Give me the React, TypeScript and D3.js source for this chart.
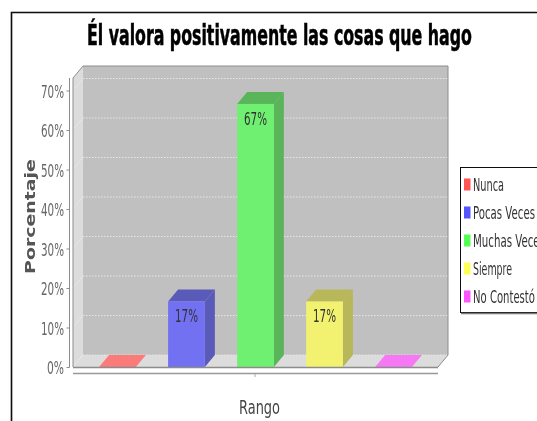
import React from "react";
import * as d3 from "d3";

const categories = ["Nunca", "Pocas Veces", "Muchas Veces", "Siempre", "No Contestó"];
const values = [0, 16.6, 66.6, 16.6, 0];
const labels = ["", "17%", "67%", "17%", ""];
const faceColors = ["#fb7a7a", "#7171f2", "#70f070", "#f2f270", "#f678f4"];
const sideColors = ["#b85c5c", "#5a5ab8", "#5ab45a", "#b8b85a", "#b85ab8"];
const swatchColors = ["#ff5555", "#5555ff", "#55ff55", "#ffff55", "#ff55ff"];
const yTicks = [0, 10, 20, 30, 40, 50, 60, 70];
const titleText = "Él valora positivamente las cosas que hago";

const dx = 10;
const dy = -12;
const font = "'DejaVu Sans', sans-serif";

const ctx = document.createElement("canvas").getContext("2d")!;
function natural(s: string, size: number, weight: number) {
  ctx.font = `${weight} ${size}px 'DejaVu Sans'`;
  return ctx.measureText(s).width;
}

function Squeezed(p: { x: number; y: number; w: number; size: number; fill: string; weight?: number; anchor?: string; stroke?: number; rotate?: number; children: string }) {
  const weight = p.weight ?? 400;
  const sx = p.w / natural(p.children, p.size, weight);
  return (
    <text transform={`translate(${p.x},${p.y}) rotate(${p.rotate ?? 0}) scale(${sx},1)`} fontSize={p.size} fontFamily={font}
      fill={p.fill} fontWeight={weight} textAnchor={p.anchor ?? "start"}
      stroke={p.stroke ? p.fill : undefined} strokeWidth={p.stroke}>
      {p.children}
    </text>
  );
}

export default function App() {
  const y = d3.scaleLinear().domain([0, 70]).range([367, 90.5]);
  const x = d3.scaleBand<string>().domain(categories).range([74, 437]).paddingInner(0.467).paddingOuter(0.363);
  const top = 78, bottom = 367, left = 73, right = 438;
  return (
    <svg width={537} height={421} style={{ position: "absolute", left: 0, top: 0, background: "#fff" }}>
      <defs>
        <filter id="soft" x="0" y="0" width="537" height="421" filterUnits="userSpaceOnUse">
          <feGaussianBlur stdDeviation="0.4" />
        </filter>
      </defs>
      <g filter="url(#soft)">
        <path d="M11.5 421V12.5H537" fill="none" stroke="#111" strokeWidth={1.6} />
        <Squeezed x={87} y={45} w={385} size={29} fill="#000" weight={700} stroke={0.6}>{titleText}</Squeezed>

        {/* walls */}
        <path d={`M${left} ${top}L${left + dx} ${top + dy}V${bottom + dy}L${left} ${bottom}Z`} fill="#dcdcdc" />
        <rect x={left + dx} y={top + dy} width={right - left} height={bottom - top} fill="#c0c0c0" />
        <path d={`M${left} ${bottom}L${left + dx} ${bottom + dy}H${right + dx}L${right} ${bottom}Z`} fill="#dcdcdc" />
        {yTicks.map((t) => (
          <g key={t} strokeWidth={1} strokeDasharray="1.5 1.5">
            <line x1={left} x2={left + dx} y1={y(t)} y2={y(t) + dy} stroke="#eeeeee" />
            <line x1={left + dx} x2={right + dx} y1={y(t) + dy} y2={y(t) + dy} stroke="#e6e6e6" />
          </g>
        ))}
        <path d={`M${left} ${bottom}V${top}L${left + dx} ${top + dy}H${right + dx}V${bottom + dy}L${right} ${bottom}`}
          fill="none" stroke="#8c8c8c" strokeWidth={1} />

        {/* bars */}
        {categories.map((c, i) => {
          const x0 = x(c)!, w = x.bandwidth(), yv = y(values[i]);
          if (values[i] === 0) {
            return (
              <path key={c} fill={faceColors[i]}
                d={`M${x0} ${bottom}L${x0 + dx} ${bottom + dy}H${x0 + w + dx}L${x0 + w} ${bottom}Z`} />
            );
          }
          return (
            <g key={c}>
              <path fill={sideColors[i]} d={`M${x0} ${yv}L${x0 + dx} ${yv + dy}H${x0 + w + dx}L${x0 + w} ${yv}Z`} />
              <path fill={sideColors[i]} d={`M${x0 + w} ${yv}L${x0 + w + dx} ${yv + dy}V${bottom + dy}L${x0 + w} ${bottom}Z`} />
              <rect x={x0} y={yv} width={w} height={bottom - yv} fill={faceColors[i]} />
              <Squeezed x={x0 + w / 2} y={yv + 21} w={23} size={17} fill="#333" anchor="middle">{labels[i]}</Squeezed>
            </g>
          );
        })}
        <line x1={left} x2={right} y1={bottom + 0.5} y2={bottom + 0.5} stroke="#8c8c8c" strokeWidth={1.4} />

        {/* y axis */}
        <line x1={69.5} x2={69.5} y1={top} y2={bottom + 0.5} stroke="#8c8c8c" />
        {yTicks.map((t) => (
          <g key={t}>
            <line x1={66.5} x2={69.5} y1={y(t) + 0.5} y2={y(t) + 0.5} stroke="#8c8c8c" />
            <Squeezed x={64} y={y(t) + 7} w={t === 0 ? 17 : 23} size={18} fill="#666" anchor="end">{`${t}%`}</Squeezed>
          </g>
        ))}

        {/* x axis */}
        <line x1={73} x2={438} y1={373.5} y2={373.5} stroke="#999" strokeWidth={1.5} />
        <line x1={255} x2={255} y1={374} y2={377} stroke="#aaa" />
        <Squeezed x={239} y={414} w={41} size={20} fill="#444">Rango</Squeezed>
        <Squeezed x={35} y={274} w={115} size={13.5} fill="#555" weight={700} rotate={-90}>Porcentaje</Squeezed>

        {/* legend */}
        <rect x={460.5} y={167.5} width={90} height={145} fill="#fff" stroke="#111" strokeWidth={1} />
        <line x1={461} x2={537} y1={313.5} y2={313.5} stroke="#777" strokeWidth={1.4} />
        {categories.map((c, i) => {
          const cy = 184.5 + i * 28;
          const widths = [31, 62, 72, 39, 62];
          return (
            <g key={c}>
              <rect x={464} y={cy - 6} width={6.5} height={12} fill={swatchColors[i]} />
              <Squeezed x={473} y={cy + 6.5} w={widths[i]} size={17} fill="#333">{c}</Squeezed>
            </g>
          );
        })}
      </g>
    </svg>
  );
}
